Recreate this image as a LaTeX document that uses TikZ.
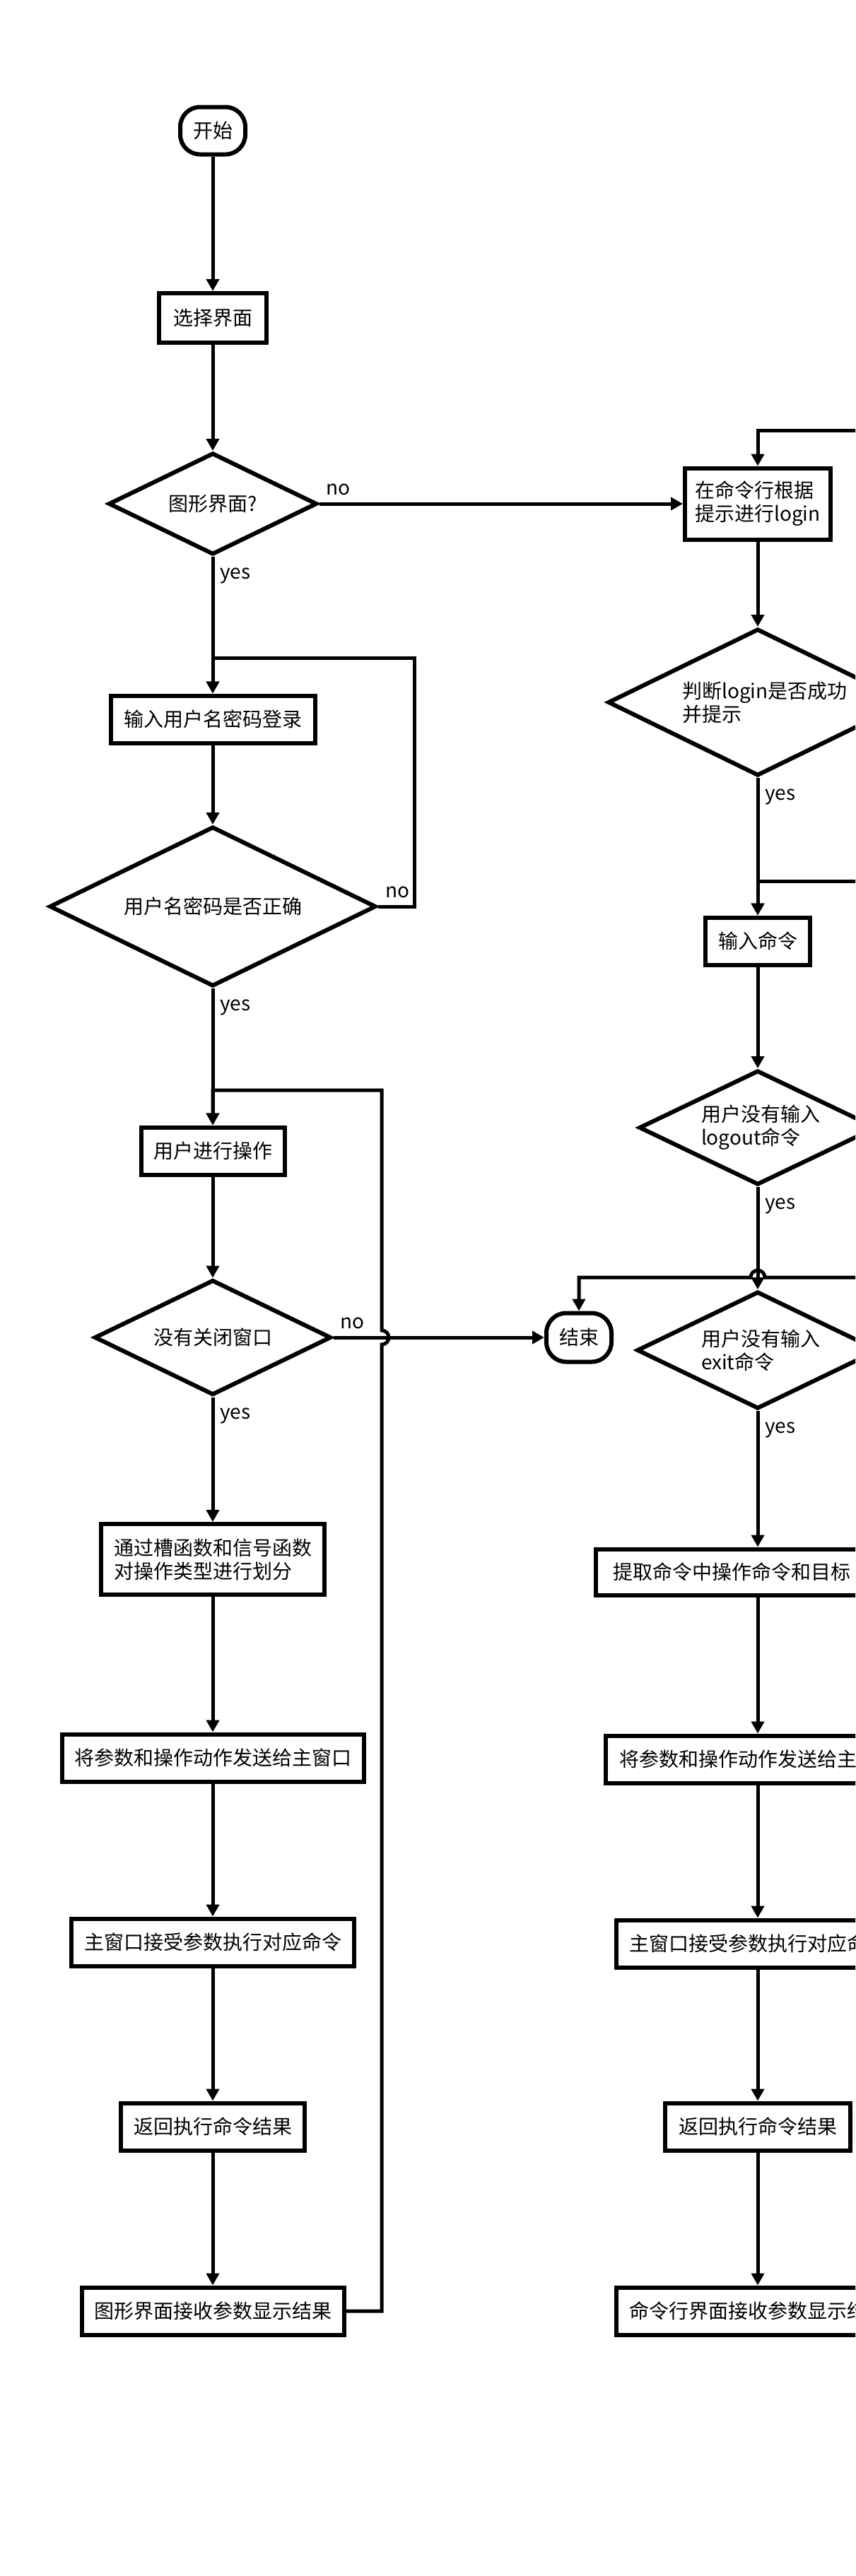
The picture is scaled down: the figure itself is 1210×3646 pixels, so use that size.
\documentclass[tikz,border=0pt]{standalone}
\usepackage{fontspec}
\setmainfont{Noto Sans CJK SC}
\usetikzlibrary{arrows.meta,%
                shapes,positioning}

\begin{document}
\begin{tikzpicture}[x = 0.5pt, y = -0.5pt]
  \tikzset{BoxStyle/.style      = {shape          = rectangle,
                                   draw,
                                   line width     = 3pt,
                                   inner sep      = 0pt,
                                   align          = center,
                                   minimum height = 33.5pt,
                                   font           = \fontsize{14pt}{16.5pt}\selectfont}}
  \tikzset{TermStyle/.style     = {BoxStyle,
                                   rounded corners = 14pt}}
  \tikzset{DecisionStyle/.style = {shape          = diamond,
                                   draw,
                                   line width     = 3pt,
                                   inner sep      = 0pt,
                                   aspect         = 2,
                                   font           = \fontsize{14pt}{16.5pt}\selectfont}}
  \tikzset{EdgeStyle/.style     = {line width     = 2.5pt,
                                   -{Triangle[length = 8.5pt, width = 9pt]}}}
  \tikzset{LabelStyle/.style    = {inner sep      = 0pt,
                                   font           = \fontsize{14pt}{16.5pt}\selectfont}}

  \useasboundingbox (0,0) rectangle (1210,3646);
  \fill[white] (0,0) rectangle (1210,3646);
  \clip (0,0) rectangle (1210,3646);

  % graphical interface
  \node[TermStyle, minimum width = 46pt](start) at (301,185) {开始};
  \node[BoxStyle, minimum width = 76pt, minimum height = 35pt](choose) at (301,450) {选择界面};
  \node[DecisionStyle, minimum width = 147.5pt, minimum height = 72pt](gui) at (301,713) {图形界面?};
  \node[BoxStyle, minimum width = 144.5pt](login) at (301,1018) {输入用户名密码登录};
  \node[DecisionStyle, minimum width = 231pt, minimum height = 113pt](check) at (301,1283) {用户名密码是否正确};
  \node[BoxStyle, minimum width = 101.5pt](operate) at (301,1629) {用户进行操作};
  \node[DecisionStyle, minimum width = 167.5pt, minimum height = 81.5pt](close) at (301,1893) {没有关闭窗口};
  \node[BoxStyle, minimum width = 158pt, minimum height = 50pt, align = left](classify) at (301,2207) {通过槽函数和信号函数\\对操作类型进行划分};
  \node[BoxStyle, minimum width = 213.5pt](send) at (301,2488) {将参数和操作动作发送给主窗口};
  \node[BoxStyle, minimum width = 200pt](exec) at (301,2749) {主窗口接受参数执行对应命令};
  \node[BoxStyle, minimum width = 130pt](result) at (301,3010) {返回执行命令结果};
  \node[BoxStyle, minimum width = 185.5pt](show) at (301,3271) {图形界面接收参数显示结果};

  % command line
  \node[BoxStyle, minimum width = 103pt, minimum height = 50.5pt, align = left](cmdlogin) at (1072,713) {在命令行根据\\提示进行login};
  \node[DecisionStyle, minimum width = 212pt, minimum height = 104pt, align = left](judge) at (1072,994) {\hspace*{10pt}判断login是否成功\\\hspace*{10pt}并提示};
  \node[BoxStyle, minimum width = 74pt](input) at (1072,1332) {输入命令};
  \node[DecisionStyle, minimum width = 168pt, minimum height = 81pt, align = left](logout) at (1072,1596) {\hspace*{4pt}用户没有输入\\\hspace*{4pt}logout命令};
  \node[DecisionStyle, minimum width = 171pt, minimum height = 83pt, align = left](exit) at (1072,1911) {\hspace*{4pt}用户没有输入\\\hspace*{4pt}exit命令};
  \node[TermStyle, minimum width = 46pt, minimum height = 34.5pt](end) at (819,1893) {结束};
  \node[BoxStyle, minimum width = 229pt, minimum height = 32.5pt, text width = 205pt, align = left](extract) at (1072,2225) {提取命令中操作命令和目标};
  \node[BoxStyle, minimum width = 215pt](send2) at (1072,2490) {将参数和操作动作发送给主窗口};
  \node[BoxStyle, minimum width = 200pt](exec2) at (1072,2751) {主窗口接受参数执行对应命令};
  \node[BoxStyle, minimum width = 131pt](result2) at (1072,3010) {返回执行命令结果};
  \node[BoxStyle, minimum width = 200pt](show2) at (1072,3271) {命令行界面接收参数显示结果};

  \coordinate (loopLogin) at (586,931);
  \coordinate (loopOper)  at (540,1543);
  \coordinate (hopOper)   at (540,1893);
  \coordinate (backLogin) at (1300,609);
  \coordinate (backInput) at (1300,1247);
  \coordinate (backEnd)   at (1300,1808);
  \coordinate (hopEnd)    at (1072,1808);

  \draw[EdgeStyle](start) -- (choose);
  \draw[EdgeStyle](choose) -- (gui);
  \draw[EdgeStyle](gui) -- (cmdlogin);
  \draw[EdgeStyle](gui) -- (login);
  \draw[EdgeStyle](login) -- (check);
  \draw[EdgeStyle](check.east) -| (loopLogin) -| (login.north);
  \draw[EdgeStyle](check) -- (operate);
  \draw[EdgeStyle](operate) -- (close);
  \draw[EdgeStyle](close) -- (end);
  \draw[EdgeStyle](close) -- (classify);
  \draw[EdgeStyle](classify) -- (send);
  \draw[EdgeStyle](send) -- (exec);
  \draw[EdgeStyle](exec) -- (result);
  \draw[EdgeStyle](result) -- (show);
  \draw[EdgeStyle](show.east) -| ([yshift = -5pt]hopOper)
                   arc[start angle = -90, end angle = 90, radius = 5pt]
                   -- (loopOper) -| (operate.north);

  \draw[EdgeStyle](backLogin) -| (cmdlogin.north);
  \draw[EdgeStyle](cmdlogin) -- (judge);
  \draw[EdgeStyle](judge) -- (input);
  \draw[EdgeStyle](backInput) -| (input.north);
  \draw[EdgeStyle](input) -- (logout);
  \draw[EdgeStyle](logout) -- (exit);
  \draw[EdgeStyle](backEnd) -- ([xshift = 5pt]hopEnd)
                   arc[start angle = 0, end angle = 180, radius = 5pt]
                   -| (end.north);
  \draw[EdgeStyle](exit) -- (extract);
  \draw[EdgeStyle](extract) -- (send2);
  \draw[EdgeStyle](send2) -- (exec2);
  \draw[EdgeStyle](exec2) -- (result2);
  \draw[EdgeStyle](result2) -- (show2);

  % branch labels
  \node[LabelStyle, above right = 6pt and 5pt of gui.east](guino){no};
  \node[LabelStyle, below right = 7.5pt and 5pt of gui.south](guiyes){yes};
  \node[LabelStyle, above right = 6pt and 5pt of check.east](checkno){no};
  \node[LabelStyle, below right = 7.5pt and 5pt of check.south](checkyes){yes};
  \node[LabelStyle, above right = 6pt and 5pt of close.east](closeno){no};
  \node[LabelStyle, below right = 7.5pt and 5pt of close.south](closeyes){yes};
  \node[LabelStyle, below right = 7.5pt and 5pt of judge.south](judgeyes){yes};
  \node[LabelStyle, below right = 7.5pt and 5pt of logout.south](logoutyes){yes};
  \node[LabelStyle, below right = 7.5pt and 5pt of exit.south](exityes){yes};
\end{tikzpicture}
\end{document}
